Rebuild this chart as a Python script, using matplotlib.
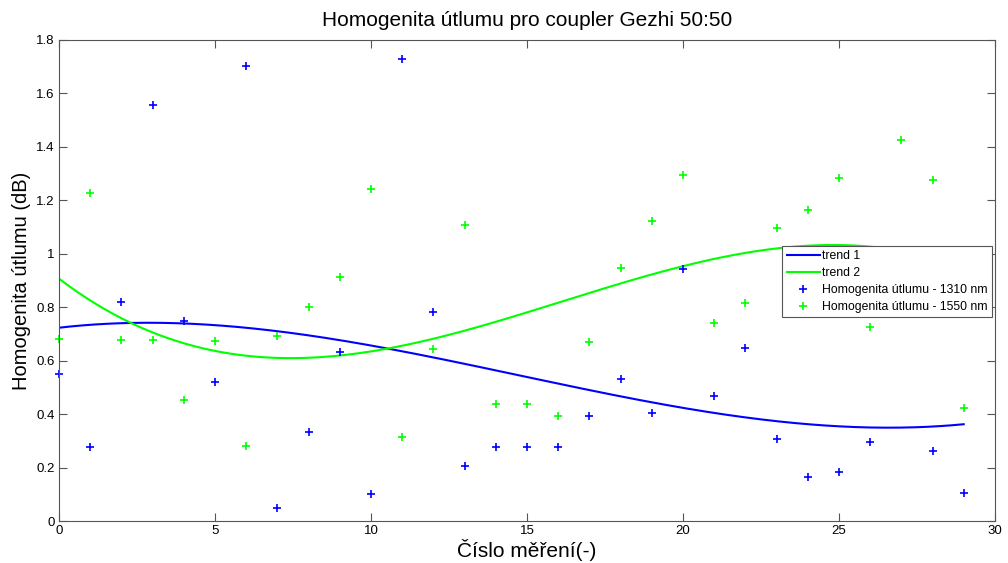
import numpy as np
import matplotlib
matplotlib.use("Agg")
import matplotlib.pyplot as plt

plt.rcParams['font.family'] = ['Liberation Sans', 'DejaVu Sans']

# measured values, index = cislo mereni
mereni = np.arange(30)
utlum_1310 = [0.549, 0.277, 0.820, 1.557, 0.750, 0.521, 1.703, 0.049, 0.333, 0.634,
              0.100, 1.728, 0.783, 0.206, 0.277, 0.277, 0.277, 0.394, 0.531, 0.403,
              0.944, 0.468, 0.649, 0.306, 0.165, 0.182, 0.297, 0.900, 0.261, 0.105]
utlum_1550 = [0.680, 1.228, 0.677, 0.677, 0.453, 0.672, 0.279, 0.692, 0.802, 0.914,
              1.241, 0.316, 0.643, 1.108, 0.437, 0.437, 0.394, 0.670, 0.947, 1.124,
              1.295, 0.742, 0.816, 1.097, 1.164, 1.285, 0.726, 1.425, 1.276, 0.422]

xticks = [0, 5, 10, 15, 20, 25, 30]
yticks = [0, 0.2, 0.4, 0.6, 0.8, 1.0, 1.2, 1.4, 1.6, 1.8]
yticklabels = ['0', '0.2', '0.4', '0.6', '0.8', '1', '1.2', '1.4', '1.6', '1.8']

# cubic trends
p1 = np.polyfit(mereni, utlum_1310, 3)
p2 = np.polyfit(mereni, utlum_1550, 3)
xt = np.linspace(0, 29, 300)

fig = plt.figure(figsize=(10.08, 5.63), dpi=100)
ax = fig.add_axes([0.0585, 0.0746, 0.9285, 0.8544])

ax.plot(xt, np.polyval(p1, xt), color=(0, 0, 1), lw=1.5, label='trend 1')
ax.plot(xt, np.polyval(p2, xt), color=(0, 1, 0), lw=1.5, label='trend 2')
ax.plot(mereni, utlum_1310, '+', color=(0, 0, 1), ms=6, mew=1.2,
        label='Homogenita útlumu - 1310 nm', clip_on=False)
ax.plot(mereni, utlum_1550, '+', color=(0, 1, 0), ms=6, mew=1.2,
        label='Homogenita útlumu - 1550 nm', clip_on=False)

ax.set_xlim(0, 30)
ax.set_ylim(0, 1.8)
ax.set_xticks(xticks)
ax.set_xticklabels([str(t) for t in xticks])
ax.set_yticks(yticks)
ax.set_yticklabels(yticklabels)
ax.tick_params(direction='in', top=True, right=True, length=6, labelsize=9.5,
               color='#555555', pad=3)
for s in ax.spines.values():
    s.set_color('#555555')

ax.set_title('Homogenita útlumu pro coupler Gezhi 50:50', fontsize=15, pad=10)
ax.set_xlabel('Číslo měření(-)', fontsize=15, labelpad=1)
ax.set_ylabel('Homogenita útlumu (dB)', fontsize=14.5, labelpad=4)

leg = ax.legend(loc='upper right', bbox_to_anchor=(0.997, 0.572), fontsize=8.8,
                fancybox=False, framealpha=1, edgecolor='#555555',
                borderpad=0.35, labelspacing=0.4, handlelength=2.7, handletextpad=0.2,
                borderaxespad=0)
leg.get_frame().set_linewidth(0.8)

fig.savefig('out.png', dpi=100)
